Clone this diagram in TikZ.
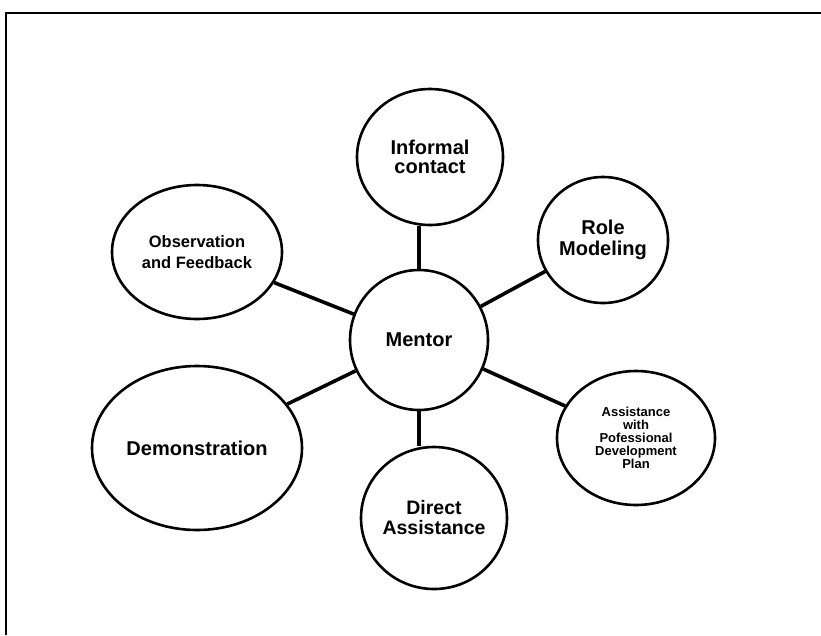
\documentclass[tikz,border=0pt]{standalone}
\usepackage{fontspec}
\setmainfont{Liberation Sans}
\usetikzlibrary{shapes.geometric,positioning}

\begin{document}
\begin{tikzpicture}[x=1pt,y=-1pt]
		\tikzstyle{Topic}	= [ellipse, draw, line width=2.6pt, fill=white, inner sep=0pt, align=center]
		\tikzstyle{Link}	= [line width=3.6pt]
		\tikzstyle{Frame}	= [line width=2.6pt]
		
		\useasboundingbox (0,0) rectangle (821,635);
		\draw [Frame] (6,635) -- (6,13) -- (821,13);
		
		\node (mentor) at (419,340) [Topic, minimum width=138pt, minimum height=140pt, font=\bfseries\fontsize{20}{20}\selectfont] {Mentor};
		\node (informal) at (430,157) [Topic, minimum width=146pt, minimum height=136pt, font=\bfseries\fontsize{20}{19}\selectfont] {Informal\\contact};
		\node (role) at (603,240) [Topic, minimum width=130pt, minimum height=126pt, font=\bfseries\fontsize{20}{21}\selectfont] {Role\\Modeling};
		\node (observe) at (197,252) [Topic, minimum width=170pt, minimum height=134pt, font=\bfseries\fontsize{16.5}{21}\selectfont] {Observation\\and Feedback};
		\node (demo) at (197,448) [Topic, minimum width=210pt, minimum height=164pt, font=\bfseries\fontsize{20}{20}\selectfont] {Demonstration};
		\node (direct) at (434,518) [Topic, minimum width=146pt, minimum height=142pt, font=\bfseries\fontsize{19.5}{20}\selectfont] {Direct\\Assistance};
		\node (assist) at (636,438) [Topic, minimum width=158pt, minimum height=134pt, font=\bfseries\fontsize{13}{13}\selectfont] {Assistance\\with\\Pofessional\\Development\\Plan};
		
		\draw [-] (mentor.north) to (mentor.north |- informal.south) [Link];
		\draw [-] (mentor) to (role) [Link];
		\draw [-] (mentor) to (observe) [Link];
		\draw [-] (mentor) to (demo) [Link];
		\draw [-] (mentor.south) to (mentor.south |- direct.north) [Link];
		\draw [-] (mentor) to (assist) [Link];
	\end{tikzpicture}
\end{document}
